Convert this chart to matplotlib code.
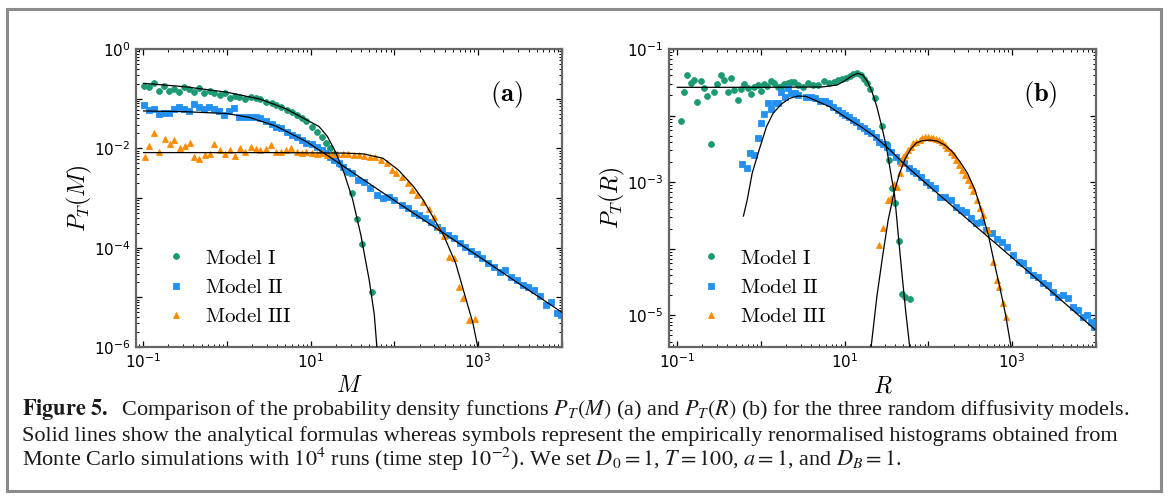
import matplotlib
matplotlib.use("Agg")
import matplotlib.pyplot as plt
import numpy as np
from matplotlib.patches import Rectangle
from matplotlib.ticker import LogLocator, NullFormatter

plt.rcParams['mathtext.fontset'] = 'cm'
plt.rcParams['font.family'] = ['DejaVu Sans']

GREEN = '#1c9a76'
BLUE = '#2391f4'
ORANGE = '#ff8c00'

# ---------------- panel (a): P_T(M), log10 values
a1_lx = [-0.988, -0.928, -0.869, -0.809, -0.749, -0.690, -0.630, -0.570, -0.510, -0.451,
         -0.391, -0.331, -0.272, -0.203, -0.148, -0.080, -0.020, 0.035, 0.094, 0.149,
         0.218, 0.286, 0.346, 0.400, 0.469, 0.537, 0.592, 0.652, 0.720, 0.775,
         0.835, 0.894, 0.949, 1.018, 1.077, 1.131, 1.186, 1.232, 1.283, 1.337,
         1.429, 1.497, 1.557, 1.616, 1.735]
a1_ly = [-0.738, -0.758, -0.690, -0.845, -0.738, -0.839, -0.811, -0.871, -0.771, -0.811,
         -0.859, -0.791, -0.880, -0.838, -0.892, -0.925, -0.892, -0.992, -0.946, -0.972,
         -1.013, -0.959, -0.992, -0.999, -1.060, -1.093, -1.133, -1.174, -1.227, -1.268,
         -1.335, -1.395, -1.442, -1.563, -1.670, -1.777, -1.885, -1.999, -2.113, -2.314,
         -2.468, -2.904, -3.427, -3.930, -4.896]

a2_lx = [-0.988, -0.928, -0.869, -0.809, -0.749, -0.690, -0.630, -0.570, -0.510, -0.451,
         -0.391, -0.331, -0.272, -0.212, -0.152, -0.093, -0.033, 0.027, 0.087, 0.146,
         0.218, 0.286, 0.346, 0.400, 0.469, 0.537, 0.592, 0.652, 0.720, 0.775,
         0.835, 0.894, 0.949, 1.018, 1.077, 1.131, 1.186, 1.232, 1.278, 1.337,
         1.383, 1.429, 1.497, 1.566, 1.634, 1.703, 1.794, 1.863, 1.931, 2.000,
         2.091, 2.160, 2.229, 2.297, 2.366, 2.434, 2.503, 2.571, 2.640, 2.709,
         2.777, 2.845, 2.914, 2.982, 3.051, 3.120, 3.188, 3.257, 3.325, 3.394,
         3.462, 3.531, 3.600, 3.668, 3.737, 3.806, 3.874, 3.942, 3.988]
a2_ly = [-1.127, -1.227, -1.207, -1.308, -1.294, -1.281, -1.207, -1.173, -1.213, -1.247,
         -1.107, -1.173, -1.213, -1.173, -1.213, -1.247, -1.328, -1.247, -1.193, -1.374,
         -1.361, -1.361, -1.375, -1.395, -1.442, -1.509, -1.563, -1.596, -1.663, -1.730,
         -1.777, -1.831, -1.885, -1.911, -1.965, -2.032, -2.099, -2.166, -2.233, -2.300,
         -2.367, -2.448, -2.502, -2.636, -2.670, -2.804, -2.938, -3.005, -2.971, -3.038,
         -3.139, -3.206, -3.307, -3.340, -3.407, -3.474, -3.575, -3.642, -3.743, -3.810,
         -3.910, -3.977, -4.058, -4.125, -4.212, -4.313, -4.393, -4.480, -4.447, -4.581,
         -4.648, -4.749, -4.796, -4.849, -4.970, -5.151, -5.084, -5.319, -5.352]

a3_lx = [-0.980, -0.925, -0.866, -0.811, -0.742, -0.683, -0.628, -0.559, -0.500, -0.445,
         -0.386, -0.331, -0.262, -0.203, -0.148, -0.080, -0.020, 0.035, 0.094, 0.163,
         0.218, 0.286, 0.346, 0.400, 0.469, 0.528, 0.592, 0.652, 0.711, 0.766,
         0.835, 0.903, 0.949, 1.018, 1.077, 1.131, 1.200, 1.260, 1.314, 1.383,
         1.452, 1.520, 1.580, 1.634, 1.703, 1.771, 1.840, 1.908, 1.977, 2.023,
         2.091, 2.160, 2.206, 2.274, 2.343, 2.411, 2.471, 2.525, 2.594, 2.649,
         2.709, 2.768, 2.823, 2.891, 2.960]
a3_ly = [-2.180, -1.945, -1.697, -2.066, -1.817, -1.911, -1.831, -1.999, -1.945, -1.885,
         -2.180, -2.220, -2.133, -2.113, -1.911, -2.032, -2.113, -2.032, -2.153, -1.985,
         -2.066, -1.965, -2.012, -2.032, -2.019, -1.932, -2.066, -2.066, -2.032, -1.999,
         -2.066, -2.099, -2.066, -2.099, -2.113, -2.086, -2.133, -2.113, -2.113, -2.113,
         -2.113, -2.133, -2.133, -2.153, -2.166, -2.180, -2.233, -2.300, -2.434, -2.502,
         -2.569, -2.703, -2.837, -2.938, -3.072, -3.226, -3.374, -3.575, -3.763, -4.179,
         -4.212, -4.796, -5.004, -5.466, -5.439]

# analytical curves of panel (a)
a1_fit_lx = [-0.994, -0.5, 0.0, 0.4, 0.7, 0.9, 1.1, 1.2, 1.3, 1.4, 1.5, 1.6, 1.7, 1.76, 1.80]
a1_fit_ly = [-0.691, -0.760, -0.870, -1.010, -1.200, -1.380, -1.560, -1.760, -2.080, -2.500,
             -3.020, -3.750, -4.660, -5.350, -6.200]
a2_fit_lx = [-0.994, -0.5, 0.0, 0.263, 0.583, 0.949, 1.269, 1.634, 2.0, 2.5, 3.0, 3.5, 4.002]
a2_fit_ly = [-1.247, -1.262, -1.300, -1.375, -1.549, -1.864, -2.220, -2.636, -3.05, -3.61,
             -4.17, -4.74, -5.305]
a3_fit_lx = [-0.994, 0.5, 1.4, 1.634, 1.863, 2.046, 2.229, 2.343, 2.457, 2.594, 2.731,
             2.845, 2.937, 2.996, 3.02]
a3_fit_ly = [-2.086, -2.086, -2.095, -2.113, -2.200, -2.434, -2.770, -3.038, -3.374, -3.776,
             -4.313, -4.983, -5.520, -6.010, -6.300]

# ---------------- panel (b): P_T(R)
b1_lx = [-0.956, -0.917, -0.877, -0.837, -0.798, -0.758, -0.718, -0.675, -0.639, -0.595,
         -0.556, -0.520, -0.476, -0.437, -0.396, -0.357, -0.318, -0.277, -0.238, -0.199,
         -0.158, -0.119, -0.080, -0.039, 0.004, 0.039, 0.080, 0.123, 0.163, 0.202,
         0.242, 0.282, 0.321, 0.361, 0.401, 0.440, 0.506, 0.564, 0.627, 0.686,
         0.754, 0.812, 0.875, 0.925, 0.970, 1.015, 1.060, 1.101, 1.146, 1.191,
         1.227, 1.273, 1.308, 1.362, 1.444, 1.507, 1.534, 1.565, 1.601, 1.647,
         1.687, 1.723, 1.777]
b1_ly = [-2.078, -1.652, -1.391, -1.506, -1.466, -1.802, -1.486, -1.591, -1.707, -2.434,
         -1.642, -1.531, -1.391, -1.466, -1.652, -1.431, -1.617, -1.767, -1.606, -1.526,
         -1.591, -1.677, -1.566, -1.541, -1.632, -1.526, -1.556, -1.481, -1.516, -1.566,
         -1.576, -1.526, -1.516, -1.501, -1.501, -1.541, -1.576, -1.516, -1.541, -1.541,
         -1.481, -1.516, -1.491, -1.466, -1.451, -1.431, -1.406, -1.376, -1.366, -1.391,
         -1.456, -1.506, -1.606, -1.742, -2.158, -2.428, -2.669, -3.095, -3.311, -3.882,
         -4.684, -4.734, -4.764]

b2_lx = [-0.225, -0.162, -0.126, -0.081, -0.039, 0.000, 0.039, 0.087, 0.127, 0.167,
         0.206, 0.246, 0.286, 0.325, 0.365, 0.405, 0.444, 0.542, 0.596, 0.650,
         0.709, 0.763, 0.812, 0.867, 0.921, 0.966, 1.002, 1.056, 1.101, 1.137,
         1.182, 1.227, 1.273, 1.318, 1.372, 1.407, 1.453, 1.507, 1.552, 1.611,
         1.656, 1.714, 1.768, 1.813, 1.858, 1.913, 1.971, 2.016, 2.084, 2.138,
         2.197, 2.264, 2.332, 2.391, 2.445, 2.513, 2.572, 2.625, 2.693, 2.761,
         2.819, 2.882, 2.941, 3.008, 3.076, 3.130, 3.189, 3.247, 3.311, 3.369,
         3.428, 3.491, 3.550, 3.608, 3.662, 3.730, 3.789, 3.843, 3.897, 3.942, 3.978]
b2_ly = [-2.729, -2.795, -2.569, -2.594, -2.334, -2.117, -1.982, -1.817, -1.907, -1.807,
         -1.807, -1.642, -1.717, -1.591, -1.666, -1.657, -1.692, -1.717, -1.717, -1.742,
         -1.782, -1.782, -1.817, -1.867, -1.917, -1.968, -1.992, -2.018, -2.068, -2.093,
         -2.158, -2.193, -2.228, -2.268, -2.318, -2.393, -2.428, -2.469, -2.544, -2.619,
         -2.684, -2.719, -2.795, -2.835, -2.870, -2.920, -2.995, -3.045, -3.095, -3.220,
         -3.220, -3.271, -3.371, -3.421, -3.446, -3.546, -3.622, -3.597, -3.722, -3.772,
         -3.862, -3.897, -3.973, -4.098, -4.198, -4.223, -4.323, -4.399, -4.424, -4.524,
         -4.549, -4.649, -4.724, -4.699, -4.749, -4.875, -4.925, -5.025, -5.000, -5.100, -5.176]

b3_lx = [1.407, 1.453, 1.520, 1.552, 1.588, 1.624, 1.656, 1.678, 1.701, 1.723,
         1.759, 1.791, 1.822, 1.858, 1.894, 1.926, 1.958, 1.994, 2.030, 2.061,
         2.093, 2.129, 2.165, 2.197, 2.228, 2.264, 2.300, 2.332, 2.368, 2.400,
         2.436, 2.467, 2.503, 2.535, 2.580, 2.616, 2.648, 2.706, 2.774, 2.819,
         2.841, 2.887, 2.932]
b3_ly = [-3.947, -3.697, -3.271, -3.246, -3.030, -3.070, -2.870, -2.719, -2.619, -2.594,
         -2.519, -2.469, -2.419, -2.393, -2.368, -2.343, -2.328, -2.328, -2.333, -2.333,
         -2.358, -2.368, -2.393, -2.444, -2.494, -2.544, -2.594, -2.669, -2.745, -2.820,
         -2.895, -2.970, -3.045, -3.130, -3.271, -3.396, -3.496, -3.722, -4.198, -4.474,
         -4.574, -4.825, -5.035]

b1_fit_lx = [-0.996, 0.0, 0.731, 0.912, 1.002, 1.092, 1.160, 1.218, 1.273, 1.327, 1.385,
             1.444, 1.498, 1.552, 1.597, 1.647, 1.692, 1.732, 1.777]
b1_fit_ly = [-1.576, -1.576, -1.571, -1.541, -1.476, -1.400, -1.366, -1.391, -1.491, -1.641,
             -1.867, -2.168, -2.469, -2.870, -3.200, -3.882, -4.474, -4.975, -5.476]
b2_fit_lx = [-0.207, -0.162, -0.103, -0.020, 0.068, 0.147, 0.246, 0.345, 0.440, 0.540,
             0.641, 0.822, 1.002, 1.182, 1.362, 1.543, 1.723, 1.926, 2.5, 3.0, 3.5, 3.987]
b2_fit_ly = [-3.511, -3.271, -2.870, -2.519, -2.168, -1.967, -1.827, -1.742, -1.707, -1.712,
             -1.767, -1.867, -2.018, -2.158, -2.318, -2.519, -2.744, -2.970, -3.595, -4.137,
             -4.682, -5.216]
b3_fit_lx = [1.317, 1.385, 1.453, 1.520, 1.588, 1.656, 1.723, 1.791, 1.858, 1.926, 2.016,
             2.107, 2.197, 2.287, 2.377, 2.467, 2.557, 2.648, 2.716, 2.783, 2.851, 2.918, 2.986]
b3_fit_ly = [-5.476, -4.724, -4.123, -3.572, -3.170, -2.870, -2.650, -2.500, -2.410, -2.379,
             -2.368, -2.385, -2.444, -2.544, -2.694, -2.870, -3.120, -3.496, -3.800, -4.198,
             -4.574, -4.975, -5.476]

models = ['Model I', 'Model II', 'Model III']
colors = [GREEN, BLUE, ORANGE]
markers = ['o', 's', '^']
msizes = [4.2, 3.8, 5.0]


def p10(v):
    return 10.0 ** np.asarray(v)


def tick_label(k):
    return r'$\mathdefault{10^{%d}}$' % k


def setup_axes(ax, xlim, ylim, xdec, ydec, xlab_dec, ylab_dec):
    ax.set_xscale('log')
    ax.set_yscale('log')
    ax.set_xlim(*xlim)
    ax.set_ylim(*ylim)
    ax.set_xticks([10.0 ** k for k in xdec],
                  labels=[tick_label(k) if k in xlab_dec else '' for k in xdec])
    ax.set_yticks([10.0 ** k for k in ydec],
                  labels=[tick_label(k) if k in ylab_dec else '' for k in ydec])
    for axis in (ax.xaxis, ax.yaxis):
        axis.set_minor_locator(LogLocator(base=10, subs=np.arange(2, 10) * 1.0, numticks=60))
        axis.set_minor_formatter(NullFormatter())
    ax.tick_params(which='both', direction='in', top=True, right=True, labelsize=11,
                   color='black')
    ax.tick_params(which='major', length=4, width=0.9, pad=4)
    ax.tick_params(which='minor', length=2, width=0.7)
    for s in ax.spines.values():
        s.set_color('#666666')
        s.set_linewidth(1.6)


fig = plt.figure(figsize=(11.74, 4.97), dpi=100)
fig.patch.set_facecolor('white')

axA = fig.add_axes([136 / 1174, 1 - 347 / 497, 426 / 1174, 298 / 497])
axB = fig.add_axes([669 / 1174, 1 - 347 / 497, 427 / 1174, 298 / 497])

panels = [
    (axA, [(a1_lx, a1_ly), (a2_lx, a2_ly), (a3_lx, a3_ly)],
     [(a1_fit_lx, a1_fit_ly), (a2_fit_lx, a2_fit_ly), (a3_fit_lx, a3_fit_ly)],
     r'$M$', r'$P_T(M)$', r'$\mathbf{(a)}$'),
    (axB, [(b1_lx, b1_ly), (b2_lx, b2_ly), (b3_lx, b3_ly)],
     [(b1_fit_lx, b1_fit_ly), (b2_fit_lx, b2_fit_ly), (b3_fit_lx, b3_fit_ly)],
     r'$R$', r'$P_T(R)$', r'$\mathbf{(b)}$'),
]

for ax, scat, fits, xl, yl, tag in panels:
    for (lx, ly), c, m, ms, name in zip(scat, colors, markers, msizes, models):
        ax.plot(p10(lx), p10(ly), ls='none', marker=m, ms=ms, color=c, mec=c,
                mew=0.6, label=r'$\mathrm{%s}$' % name.replace(' ', r'\ '), zorder=2)
    for lx, ly in fits:
        ax.plot(p10(lx), p10(ly), color='black', lw=0.9, zorder=3)
    ax.set_xlabel(xl, fontsize=17)
    ax.set_ylabel(yl, fontsize=17)
    ax.text(0.869, 0.848, tag, transform=ax.transAxes, fontsize=19,
            ha='center', va='center')

setup_axes(axA, (10 ** -1.084, 1e4), (1e-6, 1.0), range(-1, 5), range(-6, 1),
           (-1, 1, 3), (0, -2, -4, -6))
setup_axes(axB, (10 ** -1.095, 1e4), (10 ** -5.48, 0.1), range(-1, 5), range(-5, 0),
           (-1, 1, 3), (-1, -3, -5))

axA.xaxis.set_label_coords(0.5, -0.088)
axB.xaxis.set_label_coords(0.5, -0.088)
axA.yaxis.set_label_coords(-0.099, 0.5)
axB.yaxis.set_label_coords(-0.098, 0.5)

for ax, x0 in ((axA, 0.070), (axB, 0.073)):
    ax.legend(loc='center left', bbox_to_anchor=(x0, 0.201), frameon=False,
              fontsize=15, numpoints=1, handlelength=1.0, handletextpad=0.9,
              labelspacing=0.45, borderpad=0.0, borderaxespad=0.0)

# outer frame
fig.add_artist(Rectangle((7 / 1174, 1 - 491 / 497), 1154 / 1174, 482 / 497,
                         transform=fig.transFigure, fill=False,
                         edgecolor='#8c8c8c', lw=2.2))

caption = [
    r'$\mathbf{Figure\ 5.}$  Comparison of the probability density functions $P_T(M)$ (a) '
    r'and $P_T(R)$ (b) for the three random diffusivity models.',
    'Solid lines show the analytical formulas whereas symbols represent the empirically '
    'renormalised histograms obtained from',
    r'Monte Carlo simulations with $10^4$ runs (time step $10^{-2}$). We set $D_0=1$, '
    r'$T=100$, $a=1$, and $D_B=1$.',
]
for line, ypx in zip(caption, (415, 441, 466)):
    fig.text(22 / 1174, 1 - ypx / 497, line, fontsize=16, family='Liberation Serif',
             math_fontfamily='stix', ha='left', va='baseline', color='#1a1a1a')

fig.savefig('out.png', dpi=100, facecolor='white')
